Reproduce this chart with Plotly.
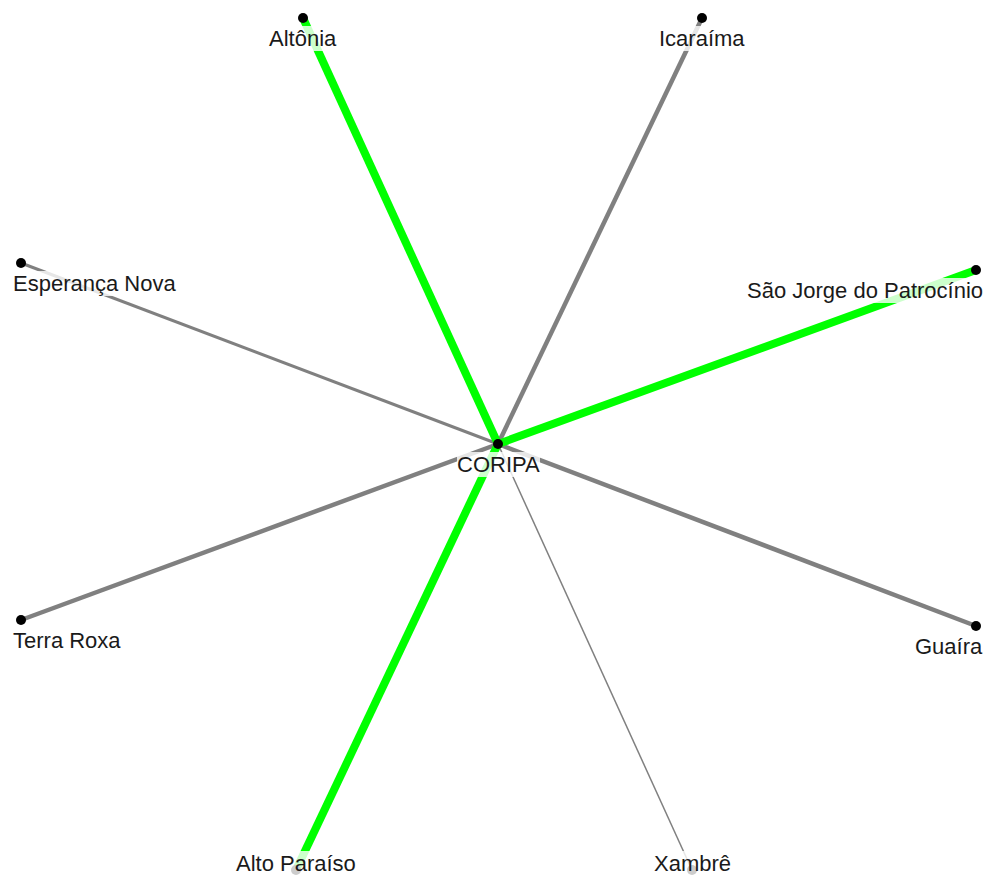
import plotly.graph_objects as go

# Node data (layout coordinates in the chart's pixel space)
center_name = "CORIPA"
center_xy = (498, 444)
node_names = ["Altônia", "Icaraíma", "São Jorge do Patrocínio", "Guaíra",
              "Xambrê", "Alto Paraíso", "Terra Roxa", "Esperança Nova"]
node_x = [303, 702, 976, 976, 692, 296, 21, 21]
node_y = [18, 18, 270, 626, 870, 870, 620, 263]
# Edge weights (CORIPA -> node) and highlight flag
edge_weight = [8, 4.5, 8, 4.5, 1.5, 8, 4.5, 3]
edge_highlight = [True, False, True, False, False, True, False, False]

W, H = 987, 876
GREEN = "#00ff00"
GRAY = "#808080"
FONT = dict(family="Liberation Sans, Arial, sans-serif", size=22, color="#1a1a1a")

# label placement style (left / center / right clamping, bottom clamp)
label_anchor = {"São Jorge do Patrocínio": "right", "Guaíra": "right",
                "Terra Roxa": "left", "Esperança Nova": "left"}
bottom_clamped = {"Xambrê", "Alto Paraíso"}

fig = go.Figure()

# gray edges first, green on top
order = sorted(range(len(node_names)), key=lambda i: edge_highlight[i])
for i in order:
    fig.add_trace(go.Scatter(
        x=[center_xy[0], node_x[i]], y=[center_xy[1], node_y[i]],
        mode="lines",
        line=dict(color=GREEN if edge_highlight[i] else GRAY, width=edge_weight[i]),
        hoverinfo="skip", showlegend=False))

fig.add_trace(go.Scatter(
    x=[center_xy[0]] + node_x, y=[center_xy[1]] + node_y,
    mode="markers", marker=dict(color="black", size=10),
    text=[center_name] + node_names, hoverinfo="text", showlegend=False))

annotations = []
all_names = [center_name] + node_names
all_x = [center_xy[0]] + node_x
all_y = [center_xy[1]] + node_y
for name, x, y in zip(all_names, all_x, all_y):
    anchor = label_anchor.get(name, "center")
    ax = x
    if anchor == "left":
        ax = 13
    elif anchor == "right":
        ax = W - 4
    if name in bottom_clamped:
        ay = H
        yanchor = "bottom"
    else:
        ay = y + 8
        yanchor = "top"
    annotations.append(dict(
        x=ax, y=ay, xref="x", yref="y", text=name, showarrow=False,
        xanchor=anchor, yanchor=yanchor, font=FONT,
        bgcolor="rgba(255,255,255,0.8)", borderpad=0, borderwidth=0))

fig.update_layout(
    width=W, height=H,
    margin=dict(l=0, r=0, t=0, b=0),
    paper_bgcolor="white", plot_bgcolor="white",
    xaxis=dict(range=[0, W], visible=False, fixedrange=True),
    yaxis=dict(range=[H, 0], visible=False, fixedrange=True),
    annotations=annotations,
)

fig.write_html("out.html", config={"displayModeBar": False},
               post_script="document.body.style.margin='0';document.body.style.overflow='hidden';")
